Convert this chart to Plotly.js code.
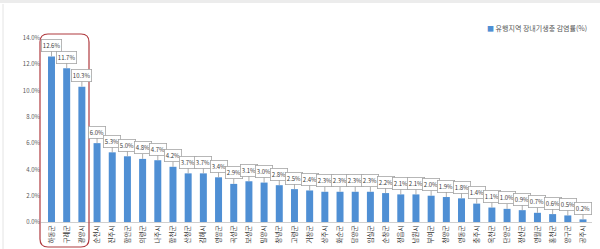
<!DOCTYPE html>
<html>
<head>
<meta charset="utf-8">
<script src="https://cdn.plot.ly/plotly-3.0.1.min.js"></script>
<style>html,body{margin:0;padding:0;background:#fff;}#chart{width:600px;height:249px;}</style>
</head>
<body>
<div id="chart"></div>
<script>
const regions = ['하동군','구례군','광양시','순천시','진주시','함안군','의령군','나주시','합천군','산청군','김해시','영암군','곡성군','보성군','밀양시','창녕군','고령군','거창군','상주시','화순군','담양군','임실군','순창군','정읍시','남원시','부여군','청양군','영동군','충주시','옥천군','단양군','정선군','영월군','홍천군','양구군','공주시'];
const rates = [12.6,11.7,10.3,6.0,5.3,5.0,4.8,4.7,4.2,3.7,3.7,3.4,2.9,3.1,3.0,2.8,2.5,2.4,2.3,2.3,2.3,2.3,2.2,2.1,2.1,2.0,1.9,1.8,1.4,1.1,1.0,0.9,0.7,0.6,0.5,0.2];
const seriesName = '유행지역 장내기생충 감염률(%)';
const yTicks = [0,2,4,6,8,10,12,14];

const FONT = '"Noto Sans CJK KR", "Noto Sans", sans-serif';
const BAR = '#4f8fd4';
const L = 41, R = 8, T = 38, B = 27, W = 600, H = 249;
const pw = W - L - R, ph = H - T - B;
const px = v => (v - L) / pw;
const py = v => (H - B - v) / ph;

const annotations = rates.map((v, i) => ({
  x: regions[i], y: v, xref: 'x', yref: 'y',
  text: v.toFixed(1) + '%',
  showarrow: true, ax: 0, ay: -11, arrowhead: 0, arrowwidth: 0.8, arrowcolor: '#9a9a9a',
  bordercolor: '#a6a6a6', borderwidth: 0.8, borderpad: 1, bgcolor: '#ffffff',
  font: {family: FONT, size: 6, color: '#404040'}
}));

// legend drawn as text with a coloured square
annotations.push({
  xref: 'paper', yref: 'paper', x: px(485), y: py(28), xanchor: 'left', yanchor: 'middle',
  showarrow: false,
  text: `<span style="color:${BAR}">■</span> ${seriesName}`,
  font: {family: FONT, size: 7, color: '#595959'}
});

// rounded red highlight box
const x0 = px(40), x1 = px(89), y0 = py(247), y1 = py(34);
const rx = 8 / pw, ry = 8 / ph;
const boxPath = `M ${x0+rx} ${y1} L ${x1-rx} ${y1} Q ${x1} ${y1} ${x1} ${y1-ry} L ${x1} ${y0+ry} Q ${x1} ${y0} ${x1-rx} ${y0} L ${x0+rx} ${y0} Q ${x0} ${y0} ${x0} ${y0+ry} L ${x0} ${y1-ry} Q ${x0} ${y1} ${x0+rx} ${y1} Z`;

const data = [{
  type: 'bar', x: regions, y: rates, name: seriesName,
  marker: {color: BAR}, showlegend: false, hoverinfo: 'x+y'
}];

const layout = {
  width: W, height: H,
  margin: {l: L, r: R, t: T, b: B, pad: 0},
  paper_bgcolor: '#ffffff', plot_bgcolor: '#ffffff',
  font: {family: FONT, size: 6, color: '#595959'},
  bargap: 0.54,
  showlegend: false,
  xaxis: {type: 'category', tickangle: -90, automargin: false, showgrid: false,
          showline: true, linecolor: '#d0d0d0', linewidth: 1, ticks: '',
          tickfont: {family: FONT, size: 6.5, color: '#333333'}, fixedrange: true},
  yaxis: {range: [0, 14], tickvals: yTicks, ticktext: yTicks.map(t => t.toFixed(1) + '%'),
          showgrid: false, zeroline: false, showline: false, ticks: '', automargin: false,
          tickfont: {family: FONT, size: 6, color: '#595959'}, fixedrange: true},
  annotations: annotations,
  shapes: [
    {type: 'path', xref: 'paper', yref: 'paper', path: boxPath,
     line: {color: '#b03a3f', width: 1.2}, fillcolor: 'rgba(0,0,0,0)'},
    {type: 'rect', xref: 'paper', yref: 'paper', x0: px(0), x1: px(600), y0: py(3), y1: py(0),
     line: {width: 0}, fillcolor: '#ececec', layer: 'below'},
    {type: 'line', xref: 'paper', yref: 'paper', x0: px(3), x1: px(3), y0: py(249), y1: py(4),
     line: {color: '#e4e4e4', width: 1}}
  ]
};

Plotly.newPlot('chart', data, layout, {displayModeBar: false, staticPlot: true});
</script>
</body>
</html>
